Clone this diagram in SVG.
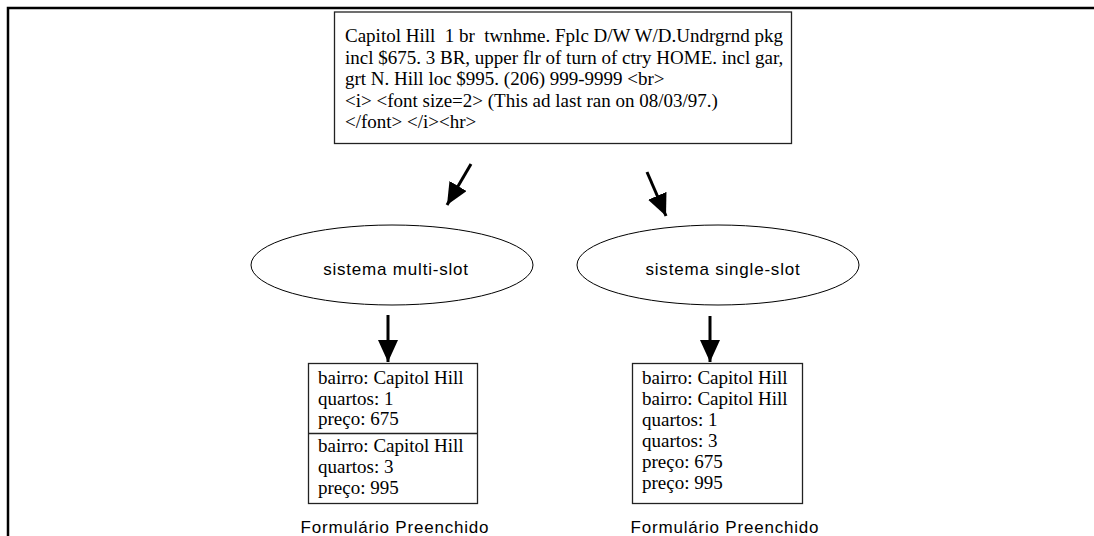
<svg xmlns="http://www.w3.org/2000/svg" width="1094" height="536" viewBox="0 0 1094 536">
  <defs>
    <style>
      .serif { font-family: "Liberation Serif", "Times New Roman", serif; font-size: 19px; fill: #000; white-space: pre; }
      .sans { font-family: "Liberation Sans", Arial, sans-serif; font-size: 17px; letter-spacing: 0.8px; fill: #000; }
      .box { fill: #fff; stroke: #222; stroke-width: 1.3; }
      .oval { fill: #fff; stroke: #000; stroke-width: 1; }
      .edge { stroke: #000; stroke-width: 3; fill: none; }
    </style>
    <marker id="head" markerUnits="userSpaceOnUse" viewBox="0 0 22 20" refX="22" refY="10" markerWidth="22" markerHeight="20" orient="auto">
      <path d="M0,0 L22,10 L0,20 Z" fill="#000"/>
    </marker>
  </defs>
  <rect width="1094" height="536" fill="#fff"/>
  <!-- outer frame -->
  <path d="M8,536 V8 H1094" fill="none" stroke="#000" stroke-width="2.5"/>

  <g id="ad-text">
    <rect class="box" x="334.5" y="12" width="457" height="131.5"/>
    <text class="serif" x="345" y="42" xml:space="preserve">Capitol Hill  1 br  twnhme. Fplc D/W W/D.Undrgrnd pkg</text>
    <text class="serif" x="345" y="63.5">incl $675. 3 BR, upper flr of turn of ctry HOME. incl gar,</text>
    <text class="serif" x="345" y="85">grt N. Hill loc $995. (206) 999-9999 &lt;br&gt;</text>
    <text class="serif" x="345" y="106.5">&lt;i&gt; &lt;font size=2&gt; (This ad last ran on 08/03/97.)</text>
    <text class="serif" x="345" y="128">&lt;/font&gt; &lt;/i&gt;&lt;hr&gt;</text>
  </g>

  <g id="multi-slot">
    <ellipse class="oval" cx="392" cy="265" rx="141" ry="40"/>
    <text class="sans" x="396" y="275" text-anchor="middle">sistema multi-slot</text>
  </g>

  <g id="single-slot">
    <ellipse class="oval" cx="718" cy="265" rx="141" ry="40"/>
    <text class="sans" x="723" y="275" text-anchor="middle">sistema single-slot</text>
  </g>

  <g id="form-multi">
    <rect class="box" x="308.5" y="363.5" width="169" height="140"/>
    <line x1="308.5" y1="433.5" x2="477.5" y2="433.5" stroke="#222" stroke-width="1.3"/>
    <text class="serif" x="318" y="384">bairro: Capitol Hill</text>
    <text class="serif" x="318" y="405">quartos: 1</text>
    <text class="serif" x="318" y="425">preço: 675</text>
    <text class="serif" x="318" y="452">bairro: Capitol Hill</text>
    <text class="serif" x="318" y="473">quartos: 3</text>
    <text class="serif" x="318" y="494">preço: 995</text>
    <text class="sans" x="395" y="533" text-anchor="middle">Formulário Preenchido</text>
  </g>

  <g id="form-single">
    <rect class="box" x="632.5" y="363.5" width="170" height="140"/>
    <text class="serif" x="642" y="384">bairro: Capitol Hill</text>
    <text class="serif" x="642" y="405">bairro: Capitol Hill</text>
    <text class="serif" x="642" y="426">quartos: 1</text>
    <text class="serif" x="642" y="447">quartos: 3</text>
    <text class="serif" x="642" y="468">preço: 675</text>
    <text class="serif" x="642" y="489">preço: 995</text>
    <text class="sans" x="725" y="533" text-anchor="middle">Formulário Preenchido</text>
  </g>

  <g id="connectors">
    <line class="edge" x1="471" y1="164" x2="447" y2="205" marker-end="url(#head)"/>
    <line class="edge" x1="647" y1="172" x2="666" y2="216" marker-end="url(#head)"/>
    <line class="edge" x1="388" y1="315" x2="388" y2="362" marker-end="url(#head)"/>
    <line class="edge" x1="710" y1="316" x2="710" y2="362" marker-end="url(#head)"/>
  </g>
</svg>
